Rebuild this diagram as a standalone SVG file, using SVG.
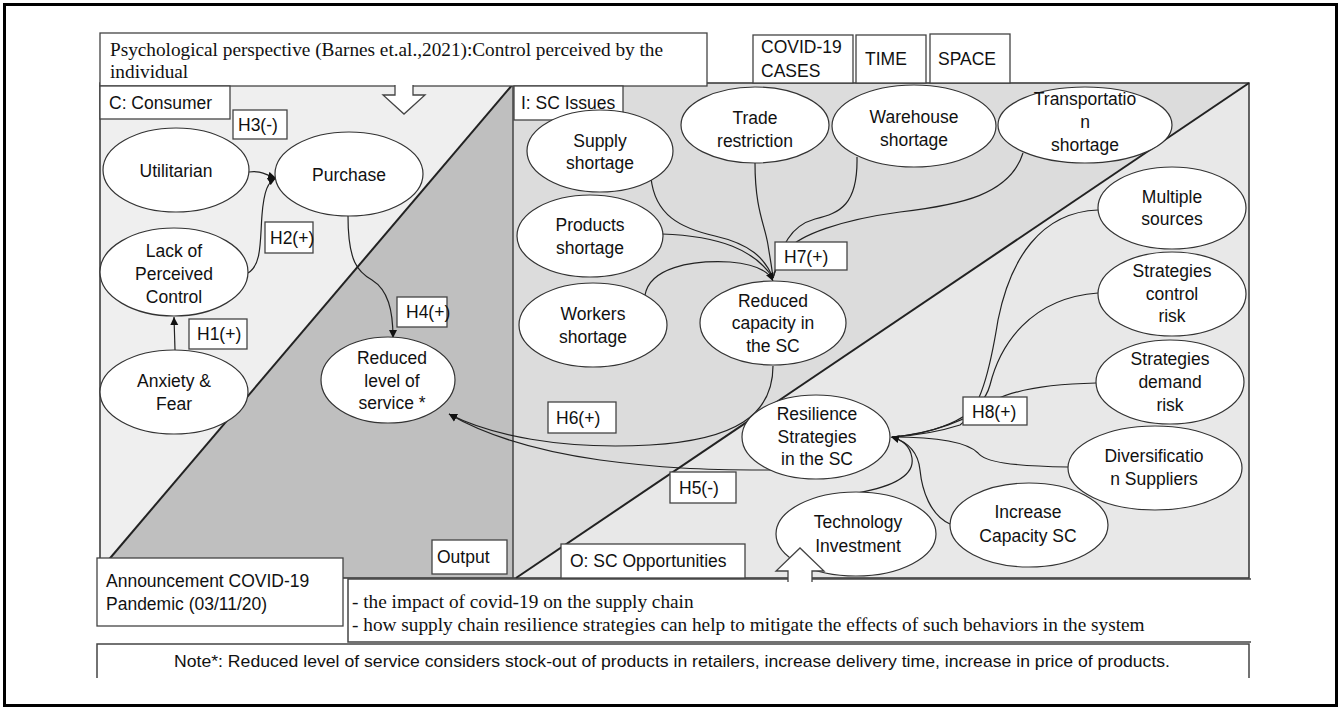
<svg xmlns="http://www.w3.org/2000/svg" width="1341" height="710" viewBox="0 0 1341 710">
<style>
.t{font-family:"Liberation Sans",Arial,sans-serif;font-size:17.5px;fill:#111}
.c{text-anchor:middle}
.s{font-family:"Liberation Serif","Times New Roman",serif;font-size:19.3px;fill:#111}
.n{fill:#fff;stroke:#333;stroke-width:1.2}
.b{fill:#fff;stroke:#444;stroke-width:1.3}
.e{fill:none;stroke:#222;stroke-width:1.2}
.d{fill:none;stroke:#222;stroke-width:2}
</style>
<defs>
<marker id="ah" markerUnits="userSpaceOnUse" markerWidth="9" markerHeight="9" refX="8" refY="4.5" orient="auto">
<path d="M0,0.5 L8,4.5 L0,8.5 z" fill="#111"/>
</marker>
</defs>
<rect x="4.5" y="4.5" width="1332" height="701" fill="#fff" stroke="#000" stroke-width="3"/>
<g id="panels">
<polygon points="100,83 513,83 100,570" fill="#efefef"/>
<polygon points="513,83 513,578 100,578 100,570" fill="#bfbfbf"/>
<polygon points="513,83 1249,83 516,578 513,578" fill="#dcdcdc"/>
<polygon points="516,578 1249,83 1249,578" fill="#e8e8e8"/>
<rect x="100" y="83" width="1149" height="495" fill="none" stroke="#333" stroke-width="1.5"/>
<line x1="513" y1="83" x2="513" y2="578" stroke="#444" stroke-width="1.5"/>
<line x1="513" y1="84" x2="100" y2="570" class="d"/>
<line x1="516" y1="578" x2="1249" y2="83" class="d"/>
</g>
<g id="psych">
<rect x="100" y="33" width="607" height="53" class="b"/>
<text class="s" x="110" y="56" textLength="553" lengthAdjust="spacing">Psychological perspective (Barnes et.al.,2021):Control perceived by the</text>
<text class="s" x="110" y="78">individual</text>
<path d="M395,85 V95 H383 L404,114 L425,95 H413 V85" class="b"/>
</g>
<g id="covid"><rect x="753" y="35" width="100" height="48" class="b"/><text class="t" x="761" y="53">COVID-19</text><text class="t" x="761" y="77">CASES</text></g>
<g id="time"><rect x="856" y="35" width="70" height="48" class="b"/><text class="t" x="865" y="65">TIME</text></g>
<g id="space"><rect x="930" y="34" width="80" height="49" class="b"/><text class="t" x="938" y="65">SPACE</text></g>
<g id="consumer"><rect x="100" y="86" width="130" height="33" class="b"/><text class="t" x="109" y="109">C: Consumer</text></g>
<g id="issues"><rect x="514" y="86" width="109" height="34" class="b"/><text class="t" x="521" y="109">I: SC Issues</text></g>
<g id="output"><rect x="432" y="540" width="75" height="34" class="b"/><text class="t" x="437" y="563">Output</text></g>
<g id="opps"><rect x="561" y="544" width="184" height="34" class="b"/><text class="t" x="570" y="567">O: SC Opportunities</text></g>

<g id="connectors">
<path class="e" marker-end="url(#ah)" d="M249,172 C260,170 266,175 276,178"/>
<path class="e" marker-end="url(#ah)" d="M248,273 C262,265 260,240 262,215 C264,190 268,182 276,178"/>
<path class="e" marker-end="url(#ah)" d="M175,350 L174,317"/>
<path class="e" marker-end="url(#ah)" d="M348,216 C348,262 358,272 372,280 C388,290 393,310 393,338"/>
<path class="e" marker-end="url(#ah)" d="M773,366 C773,415 735,440 650,445 C560,450 490,435 449,414"/>
<path class="e" marker-end="url(#ah)" d="M772,470 C700,470 660,468 600,460 C530,450 480,432 449,414"/>
<path class="e" d="M651,178 C655,215 680,228 715,236 C750,244 765,258 773,278"/>
<path class="e" d="M755,163 C755,210 765,225 768,245 C770,258 772,268 773,278"/>
<path class="e" d="M857,157 C858,205 840,213 815,219 C790,226 782,245 773,278"/>
<path class="e" d="M1023,153 C1010,195 960,205 900,212 C840,220 800,235 787,250 C780,258 776,268 773,278"/>
<path class="e" d="M662,234 C720,236 755,250 773,278"/>
<path class="e" marker-end="url(#ah)" d="M645,295 C650,268 690,260 730,262 C755,264 768,270 773,281"/>
<path class="e" d="M1098,210 C1040,212 1010,260 998,320 C990,370 980,410 960,425 C935,433 910,436 892,437"/>
<path class="e" d="M1098,293 C1030,298 1000,345 990,385 C982,415 940,433 892,437"/>
<path class="e" d="M1096,383 C1050,384 1015,390 995,400 C970,420 930,434 892,437"/>
<path class="e" d="M1068,467 C1010,466 985,462 978,453 C965,440 930,437 892,437"/>
<path class="e" d="M950,524 C930,515 922,490 920,470 C918,450 905,441 892,437"/>
<path class="e" marker-end="url(#ah)" d="M857,493 C885,488 915,478 912,458 C910,445 902,440 891,437"/>
</g>

<g id="h3"><rect x="233" y="110" width="54" height="29" class="b"/><text class="t" x="238" y="131">H3(-)</text></g>
<g id="h2"><rect x="265" y="222" width="48" height="31" class="b"/><text class="t" x="270" y="244">H2(+)</text></g>
<g id="h1"><rect x="189" y="319" width="58" height="30" class="b"/><text class="t" x="197" y="340">H1(+)</text></g>
<g id="h4"><rect x="397" y="297" width="50" height="30" class="b"/><text class="t" x="406" y="318">H4(+)</text></g>
<g id="h6"><rect x="548" y="402" width="68" height="31" class="b"/><text class="t" x="556" y="424">H6(+)</text></g>
<g id="h5"><rect x="670" y="472" width="66" height="31" class="b"/><text class="t" x="679" y="494">H5(-)</text></g>
<g id="h7"><rect x="775" y="242" width="72" height="28" class="b"/><text class="t" x="784" y="263">H7(+)</text></g>
<g id="h8"><rect x="963" y="397" width="64" height="28" class="b"/><text class="t" x="972" y="418">H8(+)</text></g>

<g id="utilitarian"><ellipse cx="176" cy="170" rx="73" ry="42" class="n"/><text class="t c" x="176" y="177">Utilitarian</text></g>
<g id="purchase"><ellipse cx="349" cy="174" rx="74" ry="42" class="n"/><text class="t c" x="349" y="181">Purchase</text></g>
<g id="lack"><ellipse cx="174" cy="272" rx="74" ry="44" class="n"/><text class="t c" x="174" y="257">Lack of<tspan x="174" dy="23">Perceived</tspan><tspan x="174" dy="23">Control</tspan></text></g>
<g id="anxiety"><ellipse cx="174" cy="392" rx="74" ry="42" class="n"/><text class="t c" x="174" y="387">Anxiety &amp;<tspan x="174" dy="23">Fear</tspan></text></g>
<g id="service"><ellipse cx="388" cy="380" rx="67" ry="43" class="n"/><text class="t c" x="392" y="364">Reduced<tspan x="392" dy="23">level of</tspan><tspan x="392" dy="22">service *</tspan></text></g>

<g id="supply"><ellipse cx="600" cy="151" rx="73" ry="41" class="n"/><text class="t c" x="600" y="147">Supply<tspan x="600" dy="22">shortage</tspan></text></g>
<g id="trade"><ellipse cx="755" cy="125" rx="74" ry="38" class="n"/><text class="t c" x="755" y="124">Trade<tspan x="755" dy="23">restriction</tspan></text></g>
<g id="warehouse"><ellipse cx="914" cy="126" rx="82" ry="41" class="n"/><text class="t c" x="914" y="123">Warehouse<tspan x="914" dy="23">shortage</tspan></text></g>
<g id="transport"><ellipse cx="1085" cy="125" rx="87" ry="38" class="n"/><text class="t c" x="1085" y="105">Transportatio<tspan x="1085" dy="23">n</tspan><tspan x="1085" dy="23">shortage</tspan></text></g>
<g id="products"><ellipse cx="590" cy="236" rx="73" ry="41" class="n"/><text class="t c" x="590" y="231">Products<tspan x="590" dy="23">shortage</tspan></text></g>
<g id="workers"><ellipse cx="593" cy="325" rx="74" ry="42" class="n"/><text class="t c" x="593" y="320">Workers<tspan x="593" dy="23">shortage</tspan></text></g>
<g id="capacity"><ellipse cx="773" cy="323" rx="73" ry="42" class="n"/><text class="t c" x="773" y="307">Reduced<tspan x="773" dy="22">capacity in</tspan><tspan x="773" dy="23">the SC</tspan></text></g>

<g id="resilience"><ellipse cx="816" cy="437" rx="74" ry="42" class="n"/><text class="t c" x="817" y="420">Resilience<tspan x="817" dy="23">Strategies</tspan><tspan x="817" dy="22">in the SC</tspan></text></g>
<g id="multiple"><ellipse cx="1172" cy="208" rx="74" ry="41" class="n"/><text class="t c" x="1172" y="203">Multiple<tspan x="1172" dy="22">sources</tspan></text></g>
<g id="control"><ellipse cx="1172" cy="294" rx="74" ry="42" class="n"/><text class="t c" x="1172" y="277">Strategies<tspan x="1172" dy="23">control</tspan><tspan x="1172" dy="22">risk</tspan></text></g>
<g id="demand"><ellipse cx="1170" cy="382" rx="74" ry="42" class="n"/><text class="t c" x="1170" y="365">Strategies<tspan x="1170" dy="23">demand</tspan><tspan x="1170" dy="23">risk</tspan></text></g>
<g id="diversification"><ellipse cx="1155" cy="468" rx="87" ry="42" class="n"/><text class="t c" x="1154" y="462">Diversificatio<tspan x="1154" dy="23">n Suppliers</tspan></text></g>
<g id="increase"><ellipse cx="1029" cy="525" rx="79" ry="42" class="n"/><text class="t c" x="1028" y="518">Increase<tspan x="1028" dy="24">Capacity SC</tspan></text></g>
<g id="technology"><ellipse cx="856" cy="534" rx="80" ry="42" class="n"/><text class="t c" x="858" y="528">Technology<tspan x="858" dy="24">Investment</tspan></text></g>

<g id="announcement"><rect x="97" y="558" width="246" height="68" class="b"/><text class="t" x="106" y="587">Announcement COVID-19</text><text class="t" x="106" y="610">Pandemic (03/11/20)</text></g>
<g id="bullets">
<rect x="348" y="579" width="903" height="63" fill="#fff"/>
<path d="M1251,579 H348 V642 H1251" fill="none" stroke="#444" stroke-width="1.5"/>
<text class="s" x="352" y="608">- the impact of covid-19 on the supply chain</text>
<text class="s" x="352" y="631">- how supply chain resilience strategies can help to mitigate the effects of such behaviors in the system</text>
<path d="M788,582 V571 H776 L800,548 L824,571 H812 V582" class="b"/>
</g>
<g id="note">
<path d="M97,678 V644 H1249 V678" fill="#fff" stroke="#444" stroke-width="1.5"/>
<text class="t" x="174" y="667" style="font-size:17px" textLength="996" lengthAdjust="spacingAndGlyphs">Note*: Reduced level of service considers stock-out of products in retailers, increase delivery time, increase in price of products.</text>
</g>
</svg>
